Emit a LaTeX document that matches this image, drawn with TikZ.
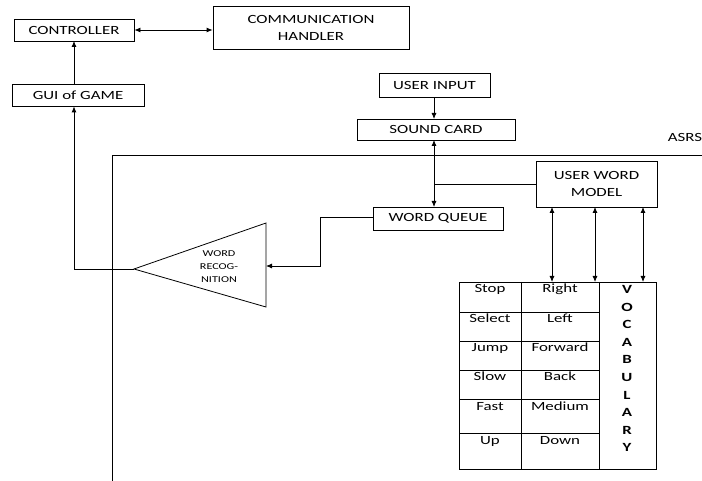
\documentclass[tikz,border=0pt]{standalone}
\usepackage{fontspec}
\setmainfont{Carlito}[FakeStretch=1.35]
\usetikzlibrary{arrows.meta}
\begin{document}
\begin{tikzpicture}[x=1pt,y=-1pt,
  every node/.style={font=\fontsize{12.5}{14}\selectfont},
  box/.style={draw,line width=0.8pt,inner sep=0pt,align=center},
  ln/.style={line width=0.8pt},
  arr/.style={ln,-{Latex[length=6pt,width=5pt]}},
  darr/.style={ln,{Latex[length=6pt,width=5pt]}-{Latex[length=6pt,width=5pt]}},
  cell/.style={anchor=base,inner sep=0pt},
  voc/.style={anchor=base,inner sep=0pt,font=\fontsize{12.5}{14}\selectfont\bfseries}]
\useasboundingbox (0,0) rectangle (702,481);
% boxes
\node[box,minimum width=120pt,minimum height=22pt] (ctrl) at (74,30) {CONTROLLER};
\node[box,minimum width=196pt,minimum height=43pt,font=\fontsize{12.5}{17}\selectfont] (comm) at (311,27.5) {COMMUNICATION\\HANDLER};
\node[box,minimum width=132pt,minimum height=22pt] (gui) at (78,95) {GUI of GAME};
\node[box,minimum width=111pt,minimum height=24pt] (uin) at (434.5,85) {USER INPUT};
\node[box,minimum width=158pt,minimum height=21pt] (snd) at (436,129.5) {SOUND CARD};
\node[box,minimum width=130pt,minimum height=23pt] (wq) at (438,218.5) {WORD QUEUE};
\node[box,minimum width=121pt,minimum height=46pt,font=\fontsize{12.5}{17}\selectfont] (uwm) at (596.5,184) {USER WORD\\MODEL};
\node[inner sep=0pt] (asrs) at (685,137) {ASRS};
% triangle
\coordinate (tip) at (134,269);
\coordinate (tt) at (266,223);
\coordinate (tb) at (266,307);
\draw[ln] (tip) -- (tt) -- (tb) -- cycle;
\node[inner sep=0pt,align=center,font=\fontsize{9}{13}\selectfont] (wr) at (219,267) {WORD\\RECOG-\\NITION};
% ASRS boundary
\coordinate (b1) at (112,481);
\coordinate (b2) at (112,155);
\coordinate (b3) at (702,155);
\draw[ln] (b1) -- (b2) -- (b3);
% connectors
\draw[darr] (ctrl.east) -- (ctrl.east -| comm.west);
\draw[arr] (74,84) -- (74,41);
\draw[arr] (uin.south -| 434,0) -- (434,119);
\draw[darr] (434,140) -- (434,207);
\draw[ln] (uwm.west) -- (434,184);
\coordinate (wqa) at (320,217);
\coordinate (wqb) at (320,266);
\draw[arr] (wq.west |- wqa) -- (wqa) -- (wqb) -- (266,266);
\draw[arr] (tip) -- (74,269) -- (gui.south -| 74,0);
% table
\def\ys{282,312,341,370,399,433,469}
\draw[ln] (459,282) rectangle (656,469);
\draw[ln] (521,282) -- (521,469);
\draw[ln] (599,282) -- (599,469);
\foreach \y in {312,341,370,399,433} \draw[ln] (459,\y) -- (599,\y);
\node[cell] (c11) at (490,293) {Stop};
\node[cell] (c12) at (560,293) {Right};
\node[cell] (c21) at (490,323) {Select};
\node[cell] (c22) at (560,323) {Left};
\node[cell] (c31) at (490,352) {Jump};
\node[cell] (c32) at (560,352) {Forward};
\node[cell] (c41) at (490,381) {Slow};
\node[cell] (c42) at (560,381) {Back};
\node[cell] (c51) at (490,410) {Fast};
\node[cell] (c52) at (560,410) {Medium};
\node[cell] (c61) at (490,444) {Up};
\node[cell] (c62) at (560,444) {Down};
\foreach \l [count=\i from 0] in {V,O,C,A,B,U,L,A,R,Y}
  \node[voc] (v\i) at (627,{293.5+17.6*\i}) {\l};
% arrows table <-> model
\foreach \x in {552,595,643} \draw[darr] (\x,282) -- (\x,207);
\end{tikzpicture}
\end{document}
